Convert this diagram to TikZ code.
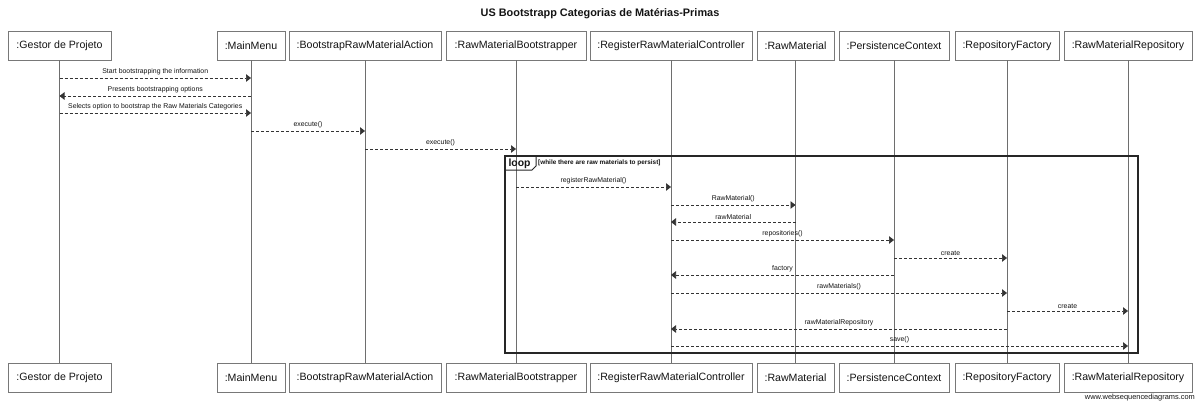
\documentclass[tikz,border=0pt]{standalone}
\usepackage{fontspec}
\setmainfont{Liberation Sans}
\usetikzlibrary{arrows.meta}
\definecolor{lifec}{RGB}{110,110,110}
\definecolor{boxc}{RGB}{120,120,120}
\definecolor{txtc}{RGB}{20,20,20}
\tikzset{
  actor/.style={draw=boxc, line width=0.9pt, fill=white, minimum height=29pt, inner sep=0pt, text=txtc, font=\fontsize{10.6}{12}\selectfont},
  life/.style={draw=lifec, line width=0.9pt},
  msg/.style={draw=black!80, line width=0.7pt, dash pattern=on 3pt off 2pt, -{Triangle[length=5pt,width=7.5pt]}},
  mlabel/.style={font=\fontsize{6.9}{8}\selectfont, text=txtc, inner sep=0pt, above=2.5pt},
  frame/.style={draw=black!85, line width=1.2pt}
}
\newcommand{\msgline}[4]{\draw[msg] (#1 |- 0,#3) -- node[mlabel]{#4} (#2 |- 0,#3);}
\begin{document}
\begin{tikzpicture}[x=1pt,y=-1pt]
\useasboundingbox (0,0) rectangle (1200,404);
\fill[white] (0,0) rectangle (1200,404);
\node[font=\fontsize{10.9}{13}\selectfont\bfseries, text=txtc] (title) at (600,14) {US Bootstrapp Categorias de Matérias-Primas};
% top boxes
\node[actor, minimum width=103pt] (t1) at (59.5,45.5) {:Gestor de Projeto};
\node[actor, minimum width=68pt] (t2) at (251,45.5) {:MainMenu};
\node[actor, minimum width=152pt] (t3) at (365,45.5) {:BootstrapRawMaterialAction};
\node[actor, minimum width=140pt] (t4) at (516,45.5) {:RawMaterialBootstrapper};
\node[actor, minimum width=162pt] (t5) at (671,45.5) {:RegisterRawMaterialController};
\node[actor, minimum width=77pt] (t6) at (795.5,45.5) {:RawMaterial};
\node[actor, minimum width=110pt] (t7) at (894,45.5) {:PersistenceContext};
\node[actor, minimum width=104pt] (t8) at (1007,45.5) {:RepositoryFactory};
\node[actor, minimum width=128pt] (t9) at (1128,45.5) {:RawMaterialRepository};
% bottom boxes
\node[actor, minimum width=103pt] (b1) at (59.5,377.5) {:Gestor de Projeto};
\node[actor, minimum width=68pt] (b2) at (251,377.5) {:MainMenu};
\node[actor, minimum width=152pt] (b3) at (365,377.5) {:BootstrapRawMaterialAction};
\node[actor, minimum width=140pt] (b4) at (516,377.5) {:RawMaterialBootstrapper};
\node[actor, minimum width=162pt] (b5) at (671,377.5) {:RegisterRawMaterialController};
\node[actor, minimum width=77pt] (b6) at (795.5,377.5) {:RawMaterial};
\node[actor, minimum width=110pt] (b7) at (894,377.5) {:PersistenceContext};
\node[actor, minimum width=104pt] (b8) at (1007,377.5) {:RepositoryFactory};
\node[actor, minimum width=128pt] (b9) at (1128,377.5) {:RawMaterialRepository};
% lifelines
\foreach \i in {1,...,9} { \draw[life] (t\i.south) -- (b\i.north); }
% loop frame
\draw[frame] (505,156) rectangle (1138,353);
\draw[frame, line width=1pt] (505,170) -- (532,170) -- (536,166) -- (536,156);
\node[font=\fontsize{10.4}{11}\selectfont\bfseries, text=txtc, inner sep=0pt] (looplbl) at (519.5,163.5) {loop};
\node[font=\fontsize{6.4}{7}\selectfont\bfseries, text=txtc, inner sep=0pt, anchor=west] (guard) at (538,162.5) {[while there are raw materials to persist]};
% messages
\msgline{t1}{t2}{78}{Start bootstrapping the information}
\msgline{t2}{t1}{96}{Presents bootstrapping options}
\msgline{t1}{t2}{113}{Selects option to bootstrap the Raw Materials Categories}
\msgline{t2}{t3}{131}{execute()}
\msgline{t3}{t4}{149}{execute()}
\msgline{t4}{t5}{187}{registerRawMaterial()}
\msgline{t5}{t6}{205}{RawMaterial()}
\msgline{t6}{t5}{222}{rawMaterial}
\msgline{t5}{t7}{240}{repositories()}
\msgline{t7}{t8}{258}{create}
\msgline{t7}{t5}{275}{factory}
\msgline{t5}{t8}{293}{rawMaterials()}
\msgline{t8}{t9}{311}{create}
\msgline{t8}{t5}{329}{rawMaterialRepository}
\msgline{t5}{t9}{346}{save()}
\node[font=\fontsize{7.4}{8}\selectfont, text=txtc, anchor=east, inner sep=0pt] (wsd) at (1195,398) {www.websequencediagrams.com};
\end{tikzpicture}
\end{document}
